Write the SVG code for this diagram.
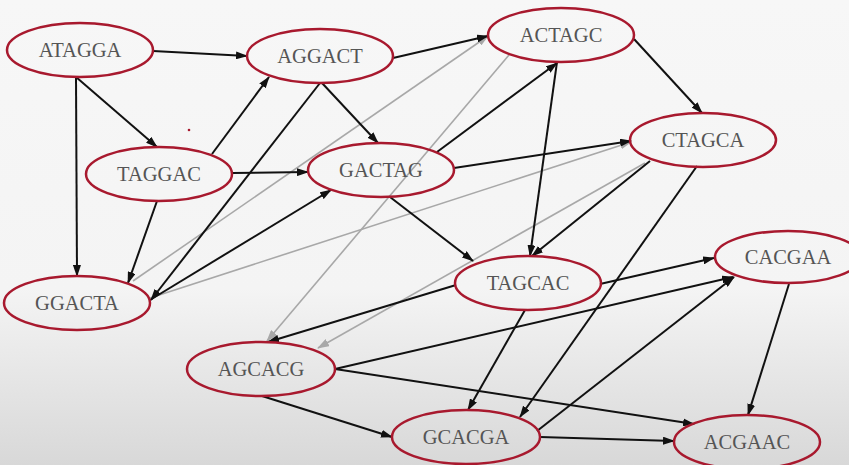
<svg xmlns="http://www.w3.org/2000/svg" width="849" height="465" viewBox="0 0 849 465">
<defs>
<linearGradient id="bg" x1="0" y1="0" x2="0" y2="1">
<stop offset="0" stop-color="#f7f7f7"/>
<stop offset="0.62" stop-color="#f4f4f4"/>
<stop offset="1" stop-color="#d8d8d8"/>
</linearGradient>
<marker id="ab" viewBox="0 0 12 8" refX="11" refY="4" markerWidth="12" markerHeight="8" markerUnits="userSpaceOnUse" orient="auto">
<path d="M0,0 L12,4 L0,8 z" fill="#111"/>
</marker>
<marker id="ag" viewBox="0 0 12 8" refX="11" refY="4" markerWidth="12" markerHeight="8" markerUnits="userSpaceOnUse" orient="auto">
<path d="M0,0 L12,4 L0,8 z" fill="#a8a8a8"/>
</marker>
<style>
.n ellipse{fill:none;stroke:#a8192e;stroke-width:2.5}
.n text{font-family:'Liberation Serif','Times New Roman',serif;font-size:20.5px;fill:#555555;text-anchor:middle;dominant-baseline:central}
.b{stroke:#111;stroke-width:2;fill:none;marker-end:url(#ab)}
.g{stroke:#a8a8a8;stroke-width:1.6;fill:none;marker-end:url(#ag)}
</style>
</defs>
<rect width="849" height="465" fill="url(#bg)"/>
<circle cx="189" cy="130" r="1.3" fill="#a8192e"/>
<g id="connectors">
<line class="g" x1="133" y1="281" x2="488" y2="36"/>
<line class="g" x1="150" y1="298" x2="631" y2="142"/>
<line class="g" x1="509" y1="55" x2="267" y2="341"/>
<line class="g" x1="645" y1="163" x2="318" y2="348"/>
<line class="b" x1="153" y1="51" x2="247" y2="56"/>
<line class="b" x1="76" y1="77" x2="157" y2="147"/>
<line class="b" x1="76" y1="77" x2="77" y2="276"/>
<line class="b" x1="212" y1="154" x2="269" y2="77"/>
<line class="b" x1="232" y1="173" x2="308" y2="172"/>
<line class="b" x1="157" y1="201" x2="128" y2="283"/>
<line class="b" x1="322" y1="83" x2="378" y2="143"/>
<line class="b" x1="393" y1="58" x2="488" y2="36"/>
<line class="b" x1="320" y1="83" x2="151" y2="300"/>
<line class="b" x1="150" y1="300" x2="331" y2="190"/>
<line class="b" x1="437" y1="152" x2="557" y2="63"/>
<line class="b" x1="454" y1="168" x2="631" y2="141"/>
<line class="b" x1="390" y1="197" x2="473" y2="261"/>
<line class="b" x1="557" y1="62" x2="530" y2="256"/>
<line class="b" x1="634" y1="39" x2="702" y2="113"/>
<line class="b" x1="650" y1="161" x2="532" y2="256"/>
<line class="b" x1="697" y1="166" x2="520" y2="417"/>
<line class="b" x1="525" y1="310" x2="468" y2="410"/>
<line class="b" x1="600" y1="284" x2="714" y2="258"/>
<line class="b" x1="456" y1="285" x2="268" y2="342"/>
<line class="b" x1="335" y1="369" x2="733" y2="277"/>
<line class="b" x1="335" y1="369" x2="694" y2="424"/>
<line class="b" x1="262" y1="396" x2="392" y2="437"/>
<line class="b" x1="540" y1="437" x2="674" y2="441"/>
<line class="b" x1="537" y1="431" x2="734" y2="277"/>
<line class="b" x1="789" y1="284" x2="748" y2="415"/>
</g>
<g id="ATAGGA" class="n"><ellipse cx="80" cy="50" rx="73" ry="27"/><text x="80" y="50">ATAGGA</text></g>
<g id="AGGACT" class="n"><ellipse cx="320" cy="56" rx="73" ry="27"/><text x="320" y="56">AGGACT</text></g>
<g id="ACTAGC" class="n"><ellipse cx="561" cy="35" rx="73" ry="27"/><text x="561" y="35">ACTAGC</text></g>
<g id="CTAGCA" class="n"><ellipse cx="703" cy="140" rx="73" ry="27"/><text x="703" y="140">CTAGCA</text></g>
<g id="TAGGAC" class="n"><ellipse cx="159" cy="174" rx="73" ry="27"/><text x="159" y="174">TAGGAC</text></g>
<g id="GGACTA" class="n"><ellipse cx="77" cy="303" rx="73" ry="27"/><text x="77" y="303">GGACTA</text></g>
<g id="GACTAG" class="n"><ellipse cx="381" cy="170" rx="73" ry="27"/><text x="381" y="170">GACTAG</text></g>
<g id="TAGCAC" class="n"><ellipse cx="528" cy="283" rx="73" ry="27"/><text x="528" y="283">TAGCAC</text></g>
<g id="CACGAA" class="n"><ellipse cx="788" cy="257" rx="73" ry="26"/><text x="788" y="257">CACGAA</text></g>
<g id="AGCACG" class="n"><ellipse cx="261" cy="369" rx="74" ry="27"/><text x="261" y="369">AGCACG</text></g>
<g id="GCACGA" class="n"><ellipse cx="466" cy="437" rx="74" ry="27"/><text x="466" y="437">GCACGA</text></g>
<g id="ACGAAC" class="n"><ellipse cx="747" cy="442" rx="73" ry="27"/><text x="747" y="442">ACGAAC</text></g>
</svg>
